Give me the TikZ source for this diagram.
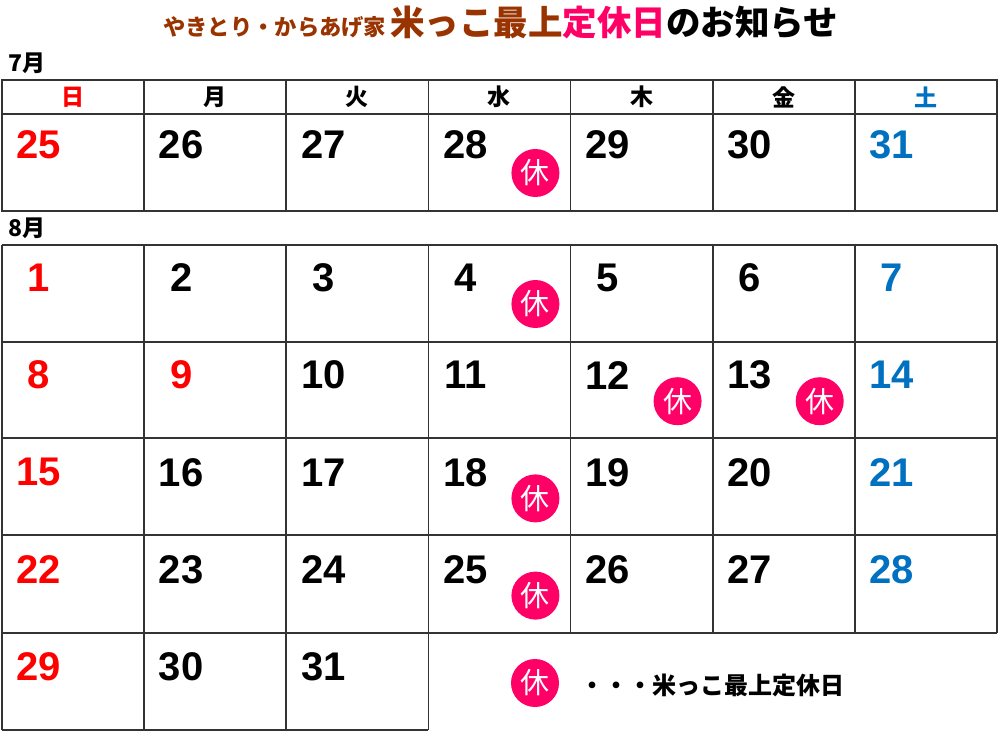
\documentclass[tikz,border=0pt]{standalone}
\usepackage{fontspec}
\setmainfont{Liberation Sans}
\newfontfamily\jpfont{Noto Sans CJK JP}
\newfontfamily\numfont{Liberation Sans}
\definecolor{sunred}{HTML}{FF0000}
\definecolor{satblue}{HTML}{0070C0}
\definecolor{holpink}{HTML}{FF0066}
\definecolor{titlebrown}{HTML}{993300}
\definecolor{gridgray}{HTML}{333333}
\begin{document}
\begin{tikzpicture}[x=1pt,y=-1pt,
  gridline/.style={draw=gridgray, line width=1.6pt},
  daynum/.style={font=\numfont\bfseries\fontsize{40}{40}\selectfont, anchor=center, inner sep=0pt},
  hdr/.style={font=\jpfont\bfseries\fontsize{23}{23}\selectfont, inner sep=0pt},
  monthlbl/.style={font=\jpfont\bfseries\fontsize{23}{23}\selectfont, anchor=west, inner sep=0pt},
  kyu/.style={circle, fill=holpink, minimum size=48pt, inner sep=0pt, text=white, font=\jpfont\fontsize{29}{29}\selectfont},
]
\useasboundingbox (0,0) rectangle (1000,733);

% title
\node[anchor=base west, inner sep=0pt] (title) at (163,36)
  {\jpfont\bfseries{\color{titlebrown}\fontsize{22.3}{22.3}\selectfont やきとり・からあげ家}\hspace{4pt}{\fontsize{34.5}{34.5}\selectfont\color{titlebrown}米っこ最上\color{holpink}定休日\color{black}のお知らせ}};

% month labels
\node[monthlbl] (m7) at (8,63) {7月};
\node[monthlbl] (m8) at (8,228) {8月};

% July grid
\draw[gridline] (2,80) rectangle (997,211);
\draw[gridline] (2,114) -- (997,114);
\foreach \i in {1,...,6}{
  \draw[gridline] ({2+\i*142.14},80) -- ({2+\i*142.14},211);
}

% weekday headers
\foreach \i/\w/\c in {0/日/sunred,1/月/black,2/火/black,3/水/black,4/木/black,5/金/black,6/土/satblue}{
  \node[hdr, text=\c] (h\i) at ({2+\i*142.14+71.07},97) {\w};
}

% August grid
\foreach \y in {245,342,438,535,633}{
  \draw[gridline] (2,\y) -- (997,\y);
}
\draw[gridline] (2,730) -- (428,730);
\foreach \i in {0,1,2,3}{
  \draw[gridline] ({2+\i*142.14},245) -- ({2+\i*142.14},730);
}
\foreach \i in {4,5,6,7}{
  \draw[gridline] ({2+\i*142.14},245) -- ({2+\i*142.14},633);
}

% July numbers
\foreach \i/\n/\c in {0/25/sunred,1/26/black,2/27/black,3/28/black,4/29/black,5/30/black,6/31/satblue}{
  \node[daynum, text=\c] (j\n) at ({2+\i*142.14+37},145) {\n};
}
\node[kyu] (kj28) at ({2+3*142.14+107},173) {休};

% August numbers
\foreach \r/\i/\n/\c in {
  0/0/1/sunred,0/1/2/black,0/2/3/black,0/3/4/black,0/4/5/black,0/5/6/black,0/6/7/satblue,
  1/0/8/sunred,1/1/9/sunred,1/2/10/black,1/3/11/black,1/4/12/black,1/5/13/black,1/6/14/satblue,
  2/0/15/sunred,2/1/16/black,2/2/17/black,2/3/18/black,2/4/19/black,2/5/20/black,2/6/21/satblue,
  3/0/22/sunred,3/1/23/black,3/2/24/black,3/3/25/black,3/4/26/black,3/5/27/black,3/6/28/satblue,
  4/0/29/sunred,4/1/30/black,4/2/31/black}{
  \node[daynum, text=\c] (a\n) at ({2+\i*142.14+37},{245+\r*97.2+33}) {\n};
}
\foreach \r/\i/\n in {0/3/4,1/4/12,1/5/13,2/3/18,3/3/25}{
  \node[kyu] (ka\n) at ({2+\i*142.14+107},{245+\r*97.2+59}) {休};
}

% legend
\node[kyu] (legkyu) at (535,683) {休};
\node[anchor=west, inner sep=0pt, font=\jpfont\bfseries\fontsize{24}{24}\selectfont] (legtxt) at (580,685) {・・・米っこ最上定休日};
\end{tikzpicture}
\end{document}
